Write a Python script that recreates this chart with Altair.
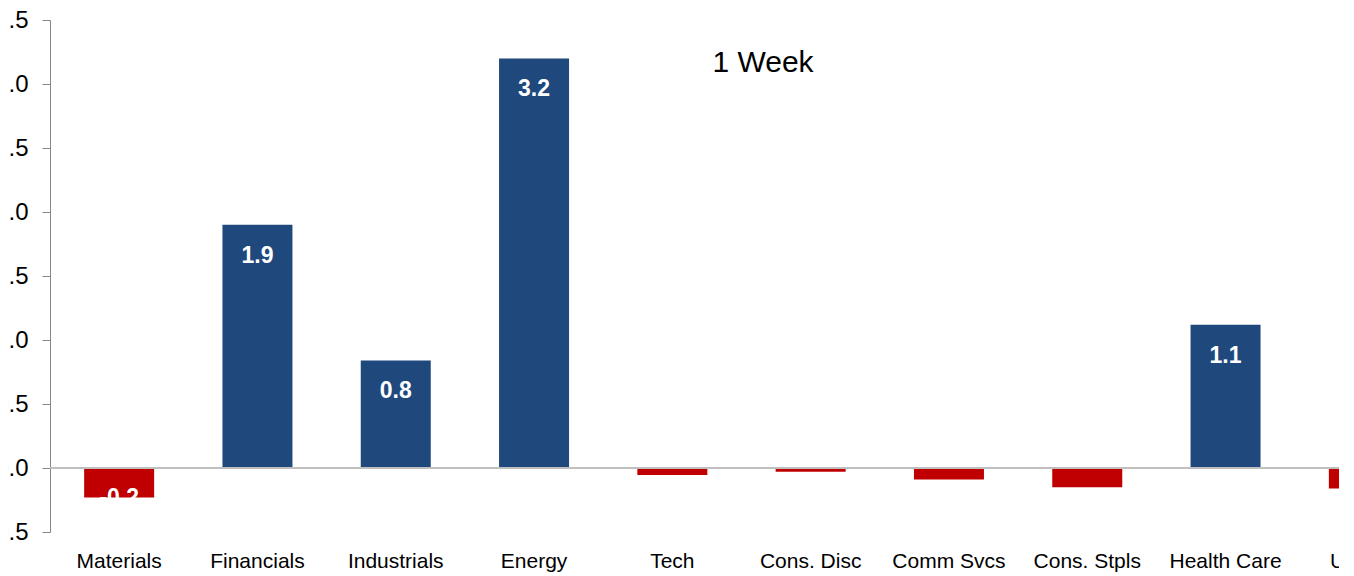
import altair as alt
import pandas as pd

sectors = ["Materials", "Financials", "Industrials", "Energy", "Tech",
           "Cons. Disc", "Comm Svcs", "Cons. Stpls", "Health Care", "Utilities"]
values = [-0.23, 1.90, 0.84, 3.20, -0.055, -0.03, -0.09, -0.15, 1.12, -0.16]
labels = ["-0.2", "1.9", "0.8", "3.2", "", "", "", "", "1.1", ""]
y_ticks = [-0.5, 0.0, 0.5, 1.0, 1.5, 2.0, 2.5, 3.0, 3.5]
title_text = "1 Week"

df = pd.DataFrame({"sector": sectors, "value": values, "label": labels})
df["sign"] = ["pos" if v >= 0 else "neg" for v in values]

FONT = "Liberation Sans"

x_enc = alt.X("sector:N", sort=sectors, title=None,
              scale=alt.Scale(range=[0, 1383], paddingInner=0, paddingOuter=0),
              axis=alt.Axis(labelAngle=0, ticks=False, domain=False, labelPadding=18,
                            labelFontSize=21, labelFont=FONT, labelColor="#000000",
                            labelOverlap=False))
y_scale = alt.Scale(domain=[-0.5, 3.5], nice=False, zero=False)

bars = alt.Chart(df).mark_bar(size=70).encode(
    x=x_enc,
    y=alt.Y("value:Q", scale=y_scale, title=None,
            axis=alt.Axis(values=y_ticks, format=".1f", grid=False, domainColor="#868686",
                          tickColor="#868686", tickSize=8, labelPadding=14,
                          labelFontSize=24, labelFont=FONT, labelColor="#000000")),
    y2=alt.datum(0),
    color=alt.Color("sign:N", scale=alt.Scale(domain=["pos", "neg"], range=["#1F497D", "#C00000"]),
                    legend=None),
)

pos_text = alt.Chart(df).transform_filter("datum.sign == 'pos' && datum.label != ''").mark_text(
    color="white", fontWeight="bold", fontSize=23, font=FONT, baseline="middle", dy=31
).encode(x=alt.X("sector:N", sort=sectors), y=alt.Y("value:Q", scale=y_scale), text="label:N")

neg_text = alt.Chart(df).transform_filter("datum.sign == 'neg' && datum.label != ''").mark_text(
    color="white", fontWeight="bold", fontSize=23, font=FONT, baseline="middle", dy=1
).encode(x=alt.X("sector:N", sort=sectors), y=alt.Y("value:Q", scale=y_scale), text="label:N")

zero = alt.Chart(pd.DataFrame({"z": [0.0]})).mark_rule(color="#BFBFBF", strokeWidth=2).encode(
    y=alt.Y("z:Q", scale=y_scale)
)

title = alt.Chart(pd.DataFrame({"t": [title_text]})).mark_text(
    fontSize=30, font=FONT, color="#000000", align="center", baseline="alphabetic"
).encode(x=alt.value(713), y=alt.value(52), text="t:N")

chart = alt.layer(bars, zero, pos_text, neg_text, title).properties(
    width=1289, height=512,
    autosize=alt.AutoSizeParams(type="none"),
    padding={"left": 42, "top": 12, "right": 0, "bottom": 44},
    background="white",
).configure_view(stroke=None)

chart.save("out.html", embed_options={"renderer": "svg", "actions": False})
